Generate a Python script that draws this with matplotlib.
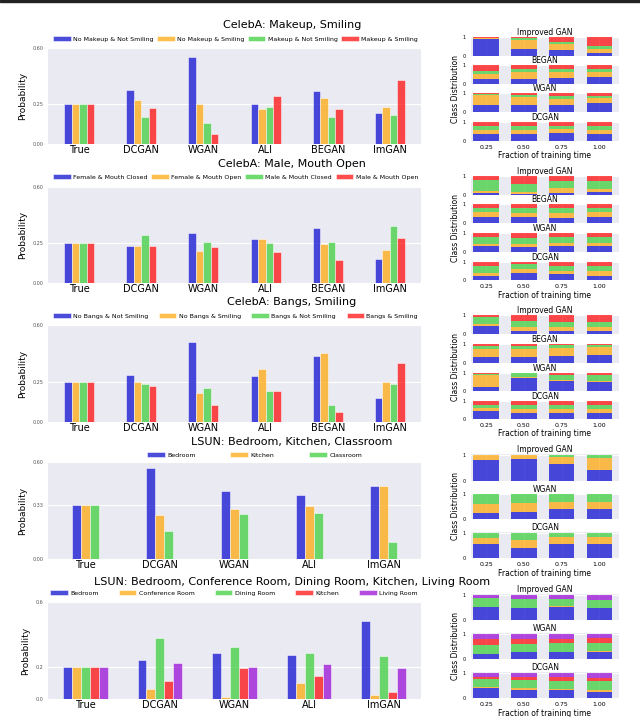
import matplotlib
matplotlib.use("Agg")
import matplotlib.pyplot as plt
import numpy as np

W, H = 640, 717

# ---- left panels: class probabilities ----
models6 = ["True", "DCGAN", "WGAN", "ALI", "BEGAN", "ImGAN"]
models5 = ["True", "DCGAN", "WGAN", "ALI", "ImGAN"]

makeup_labels = ["No Makeup & Not Smiling", "No Makeup & Smiling", "Makeup & Not Smiling", "Makeup & Smiling"]
makeup_vals = [
    [0.25, 0.34, 0.546, 0.25, 0.33, 0.195],
    [0.25, 0.273, 0.252, 0.221, 0.29, 0.231],
    [0.25, 0.168, 0.132, 0.229, 0.168, 0.181],
    [0.25, 0.225, 0.063, 0.303, 0.216, 0.399],
]

male_labels = ["Female & Mouth Closed", "Female & Mouth Open", "Male & Mouth Closed", "Male & Mouth Open"]
male_vals = [
    [0.25, 0.229, 0.312, 0.275, 0.346, 0.148],
    [0.25, 0.233, 0.198, 0.275, 0.244, 0.204],
    [0.25, 0.30, 0.256, 0.252, 0.256, 0.358],
    [0.25, 0.229, 0.225, 0.192, 0.142, 0.283],
]

bangs_labels = ["No Bangs & Not Smiling", "No Bangs & Smiling", "Bangs & Not Smiling", "Bangs & Smiling"]
bangs_vals = [
    [0.25, 0.293, 0.496, 0.283, 0.411, 0.149],
    [0.25, 0.246, 0.178, 0.329, 0.424, 0.246],
    [0.25, 0.233, 0.213, 0.19, 0.103, 0.233],
    [0.25, 0.223, 0.107, 0.194, 0.06, 0.366],
]

lsun3_labels = ["Bedroom", "Kitchen", "Classroom"]
lsun3_vals = [
    [0.333, 0.564, 0.421, 0.396, 0.449],
    [0.333, 0.27, 0.308, 0.327, 0.453],
    [0.333, 0.176, 0.277, 0.285, 0.103],
]

lsun5_labels = ["Bedroom", "Conference Room", "Dining Room", "Kitchen", "Living Room"]
lsun5_vals = [
    [0.2, 0.24, 0.286, 0.272, 0.482],
    [0.2, 0.063, 0.013, 0.097, 0.027],
    [0.2, 0.377, 0.324, 0.282, 0.263],
    [0.2, 0.112, 0.192, 0.143, 0.044],
    [0.2, 0.221, 0.196, 0.219, 0.192],
]

# ---- right panels: class distribution over training ----
fractions = [0.25, 0.50, 0.75, 1.00]

# each entry: per-class list over the 4 fractions (bottom to top)
makeup_time = {
    "Improved GAN": [[0.90, 0.38, 0.31, 0.17], [0.08, 0.48, 0.33, 0.23], [0.01, 0.09, 0.12, 0.15], [0.01, 0.05, 0.24, 0.45]],
    "BEGAN": [[0.27, 0.29, 0.34, 0.36], [0.28, 0.35, 0.30, 0.28], [0.16, 0.15, 0.15, 0.16], [0.29, 0.21, 0.21, 0.20]],
    "WGAN": [[0.36, 0.39, 0.36, 0.50], [0.57, 0.43, 0.32, 0.27], [0.02, 0.09, 0.18, 0.11], [0.05, 0.09, 0.14, 0.12]],
    "DCGAN": [[0.36, 0.36, 0.41, 0.36], [0.23, 0.24, 0.25, 0.24], [0.24, 0.23, 0.17, 0.21], [0.17, 0.17, 0.17, 0.19]],
}
male_time = {
    "Improved GAN": [[0.11, 0.05, 0.12, 0.16], [0.10, 0.13, 0.24, 0.18], [0.59, 0.43, 0.37, 0.39], [0.20, 0.39, 0.27, 0.27]],
    "BEGAN": [[0.32, 0.30, 0.27, 0.32], [0.27, 0.25, 0.27, 0.27], [0.23, 0.27, 0.25, 0.23], [0.18, 0.18, 0.21, 0.18]],
    "WGAN": [[0.34, 0.27, 0.32, 0.32], [0.11, 0.16, 0.18, 0.18], [0.35, 0.32, 0.29, 0.29], [0.20, 0.25, 0.21, 0.21]],
    "DCGAN": [[0.23, 0.39, 0.32, 0.25], [0.18, 0.22, 0.20, 0.25], [0.39, 0.28, 0.27, 0.27], [0.20, 0.11, 0.21, 0.23]],
}
bangs_time = {
    "Improved GAN": [[0.45, 0.17, 0.14, 0.14], [0.08, 0.19, 0.24, 0.24], [0.40, 0.33, 0.26, 0.24], [0.07, 0.31, 0.36, 0.38]],
    "BEGAN": [[0.33, 0.33, 0.35, 0.44], [0.42, 0.41, 0.44, 0.40], [0.18, 0.15, 0.16, 0.12], [0.07, 0.11, 0.05, 0.04]],
    "WGAN": [[0.20, 0.73, 0.55, 0.52], [0.70, 0.04, 0.06, 0.07], [0.04, 0.23, 0.32, 0.32], [0.06, 0.0, 0.07, 0.09]],
    "DCGAN": [[0.43, 0.32, 0.32, 0.32], [0.21, 0.27, 0.27, 0.27], [0.18, 0.18, 0.18, 0.18], [0.18, 0.23, 0.23, 0.23]],
}
lsun3_time = {
    "Improved GAN": [[0.80, 0.82, 0.63, 0.43], [0.20, 0.18, 0.28, 0.44], [0.0, 0.0, 0.09, 0.13]],
    "WGAN": [[0.26, 0.29, 0.40, 0.40], [0.34, 0.35, 0.31, 0.31], [0.40, 0.36, 0.29, 0.29]],
    "DCGAN": [[0.53, 0.40, 0.56, 0.53], [0.26, 0.31, 0.26, 0.29], [0.21, 0.29, 0.18, 0.18]],
}
lsun5_time = {
    "Improved GAN": [[0.50, 0.48, 0.51, 0.48], [0.01, 0.01, 0.03, 0.01], [0.36, 0.32, 0.28, 0.29],
                     [0.0, 0.0, 0.0, 0.0], [0.13, 0.19, 0.18, 0.22]],
    "WGAN": [[0.18, 0.28, 0.28, 0.28], [0.03, 0.01, 0.01, 0.02], [0.34, 0.30, 0.33, 0.33],
             [0.24, 0.19, 0.17, 0.20], [0.21, 0.22, 0.21, 0.17]],
    "DCGAN": [[0.41, 0.33, 0.33, 0.24], [0.01, 0.08, 0.04, 0.07], [0.34, 0.28, 0.28, 0.34],
              [0.06, 0.13, 0.18, 0.13], [0.18, 0.18, 0.17, 0.22]],
}

colors = ["mediumblue", "orange", "limegreen", "red", "darkviolet"]
bg = "#EAEAF2"

fig = plt.figure(figsize=(W / 100, H / 100), dpi=100)
fig.patch.set_facecolor("white")


def px_axes(x0, y0, x1, y1):
    return fig.add_axes([x0 / W, 1 - y1 / H, (x1 - x0) / W, (y1 - y0) / H])


def style(ax):
    ax.set_facecolor(bg)
    for s in ax.spines.values():
        s.set_visible(False)
    ax.grid(True, color="white", linewidth=0.8)
    ax.set_axisbelow(True)
    ax.tick_params(length=0)


def left_panel(y0, y1, title, ty, ly, lx, labels, vals, models, yt, ytl, ncol_expand=True):
    ax = px_axes(48, y0, 421, y1)
    style(ax)
    ax.grid(axis="x", visible=False)
    n = len(vals)
    w = 0.12
    x = np.arange(len(models))
    for j in range(n):
        ax.bar(x + (j - (n - 1) / 2) * w, vals[j], w, color=colors[j], alpha=0.7,
               edgecolor="white", linewidth=0.5, label=labels[j])
    ax.set_xlim(-0.5, len(models) - 0.5)
    ax.set_ylim(0, 0.6)
    ax.set_yticks(yt)
    ax.set_yticklabels(ytl, fontsize=3.5, color="#555555")
    ax.set_xticks(x)
    ax.set_xticklabels(models, fontsize=7)
    ax.tick_params(axis="x", pad=1)
    ax.tick_params(axis="y", pad=3)
    ax.set_ylabel("Probability", fontsize=6.5, labelpad=4)
    fig.text(292 / W, 1 - ty / H, title, fontsize=8, ha="center", va="center")
    fig.legend(*ax.get_legend_handles_labels(), loc="center", mode="expand",
               bbox_to_anchor=(lx[0] / W, 1 - (ly + 4) / H, (lx[1] - lx[0]) / W, 8 / H),
               ncol=n, frameon=False, fontsize=4.5, handlelength=2.8, handleheight=0.8,
               handletextpad=0.4, borderaxespad=0, borderpad=0)
    return ax


def right_panel(tops, data, ticks_y, xl_y):
    names = list(data.keys())
    for k, name in enumerate(names):
        t0, t1 = tops[k]
        ax = px_axes(471, t0, 619, t1)
        style(ax)
        bottom = np.zeros(len(fractions))
        for j, part in enumerate(data[name]):
            ax.bar(fractions, part, 0.17, bottom=bottom, color=colors[j], alpha=0.7,
                   edgecolor="none")
            bottom = bottom + np.array(part)
        ax.set_xlim(0.15, 1.13)
        ax.set_ylim(0, 1.02)
        ax.set_xticks(fractions)
        ax.set_yticks([0, 1])
        ax.set_yticklabels(["0", "1"], fontsize=3.5)
        ax.tick_params(axis="y", pad=4)
        ax.set_title(name, fontsize=5.5, pad=1.5)
        if k == len(names) - 1:
            ax.set_xticklabels(["0.25", "0.50", "0.75", "1.00"], fontsize=4.5)
            ax.tick_params(axis="x", pad=3)
        else:
            ax.set_xticklabels([])
    mid = (tops[0][0] + tops[-1][1]) / 2
    fig.text(455 / W, 1 - mid / H, "Class Distribution", fontsize=5.5, rotation=90,
             ha="center", va="center")
    fig.text(545 / W, 1 - xl_y / H, "Fraction of training time", fontsize=5.5,
             ha="center", va="center")


left_panel(48, 144, "CelebA: Makeup, Smiling", 25, 39, (53, 418),
           makeup_labels, makeup_vals, models6, [0, 0.25, 0.6], ["0.00", "0.25", "0.60"])
left_panel(187, 283, "CelebA: Male, Mouth Open", 164, 177, (53, 418),
           male_labels, male_vals, models6, [0, 0.25, 0.6], ["0.00", "0.25", "0.60"])
left_panel(325, 422, "CelebA: Bangs, Smiling", 302, 316, (53, 418),
           bangs_labels, bangs_vals, models6, [0, 0.25, 0.6], ["0.00", "0.25", "0.60"])
left_panel(462, 559, "LSUN: Bedroom, Kitchen, Classroom", 442, 455, (147, 362),
           lsun3_labels, lsun3_vals, models5, [0, 1 / 3, 0.6], ["0.00", "0.33", "0.60"])
left_panel(602, 699, "LSUN: Bedroom, Conference Room, Dining Room, Kitchen, Living Room", 582, 593, (50, 418),
           lsun5_labels, lsun5_vals, models5, [0, 0.2, 0.6], ["0.0", "0.2", "0.6"])

right_panel([(37, 56), (65, 84), (93, 112), (122, 141)], makeup_time, 146, 156)
right_panel([(176, 195), (204, 223), (233, 252), (262, 280)], male_time, 287, 296)
right_panel([(315, 334), (344, 363), (373, 391), (401, 419)], bangs_time, 426, 434)
right_panel([(454, 481), (494, 519), (532, 558)], lsun3_time, 565, 573)
right_panel([(594, 620), (633, 659), (672, 698)], lsun5_time, 705, 713)

# dark strip along the top edge of the source image
fig.add_artist(plt.Rectangle((0, 1 - 2 / H), 1, 2 / H, transform=fig.transFigure,
                             color="#222222", zorder=10))

fig.savefig("out.png", dpi=100)
